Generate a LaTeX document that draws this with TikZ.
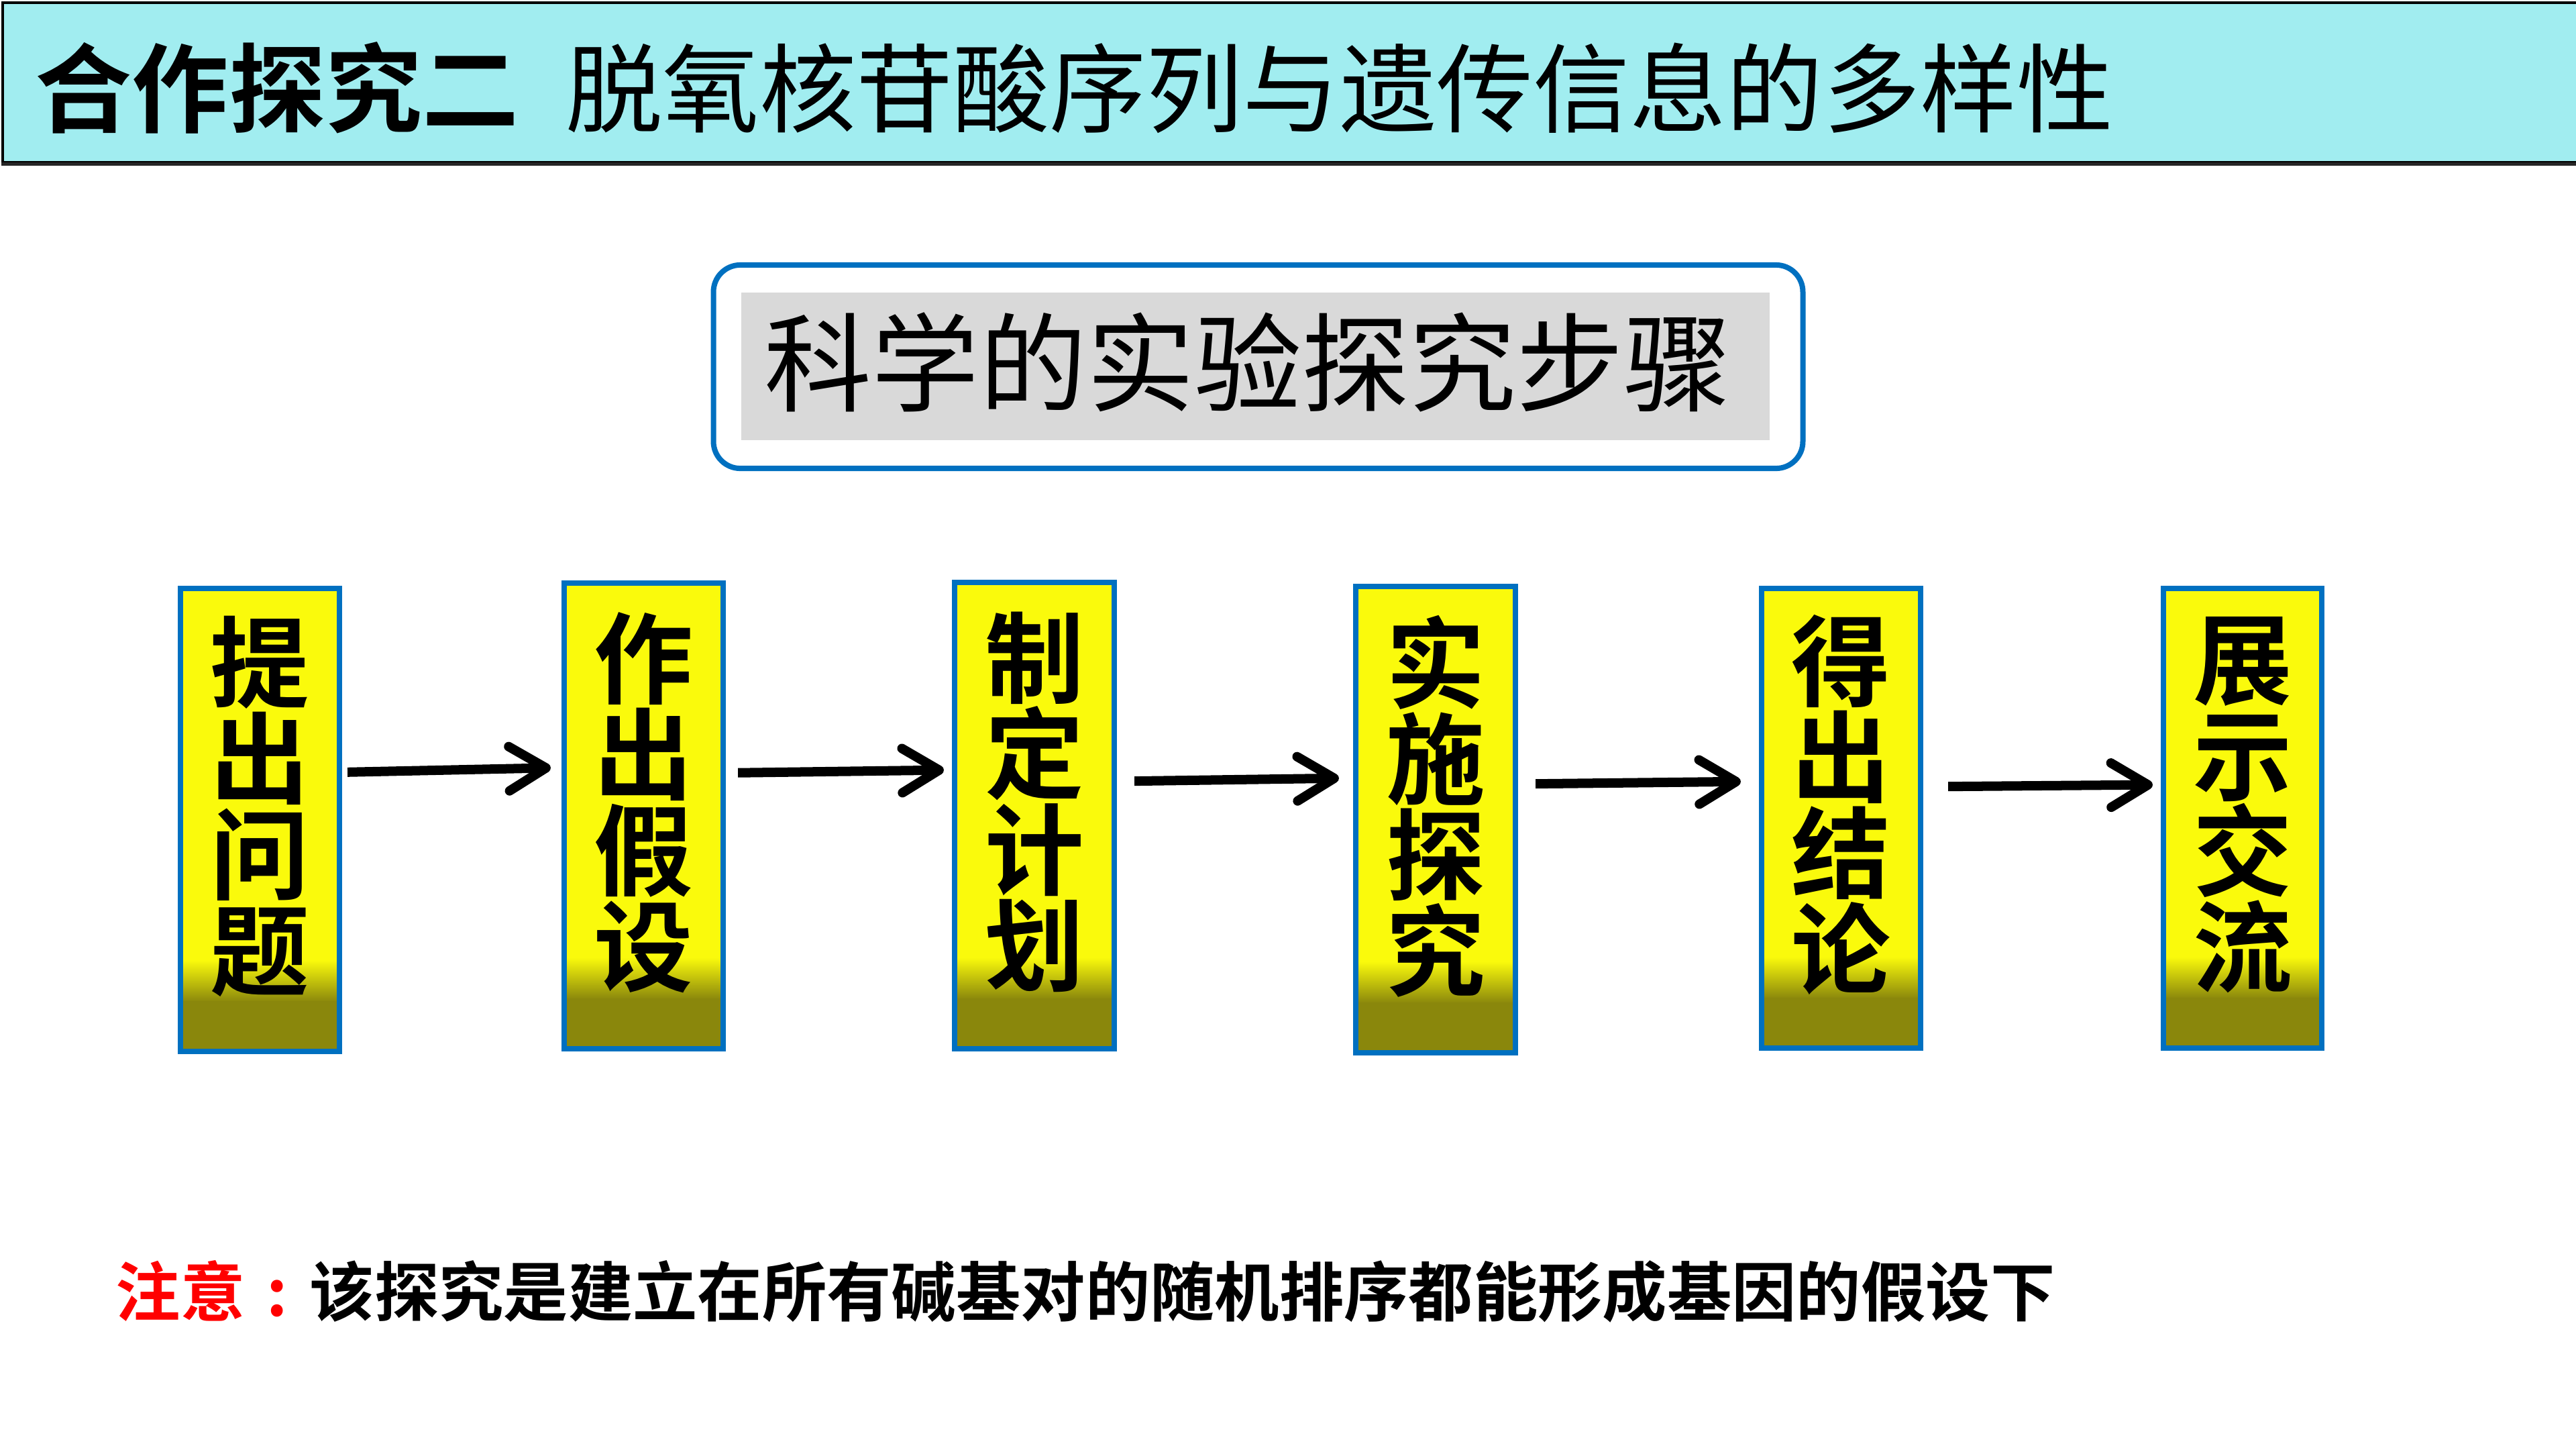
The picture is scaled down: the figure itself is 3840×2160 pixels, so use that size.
\documentclass[tikz,border=0pt]{standalone}
\usepackage{fontspec}
\newfontfamily\cjk{Noto Sans CJK SC}
\newfontfamily\cjkb{Noto Sans CJK SC Bold}
\usetikzlibrary{arrows.meta,calc}
\definecolor{barcyan}{RGB}{161,237,240}
\definecolor{boxblue}{RGB}{0,112,192}
\definecolor{yel}{RGB}{250,250,12}
\definecolor{oli}{RGB}{138,135,12}
\definecolor{greyfill}{RGB}{217,217,217}
\definecolor{notered}{RGB}{255,0,0}
\tikzset{
  stepbox/.style={draw=boxblue, line width=0.08cm, minimum width=2.37cm, minimum height=6.9cm, inner sep=0pt,
    path picture={
      \fill[yel] (path picture bounding box.south west) rectangle (path picture bounding box.north east);
      \shade[top color=yel, bottom color=oli] ([yshift=0.74cm]path picture bounding box.south west) rectangle ([yshift=1.36cm]path picture bounding box.south east);
      \fill[oli] (path picture bounding box.south west) rectangle ([yshift=0.75cm]path picture bounding box.south east);
    }},
  steptext/.style={inner sep=0pt, align=center, font=\cjkb\fontsize{42pt}{40.7pt}\selectfont},
  arr/.style={line width=0.14cm, -{Straight Barb[length=0.55cm, width=0.66cm, line cap=round, line join=round]}},
}
\begin{document}
\begin{tikzpicture}[x=0.01cm, y=-0.01cm]
\useasboundingbox (0,0) rectangle (3840,2160);
\fill[white] (0,0) rectangle (3840,2160);
% title bar
\node[draw=black, line width=0.04cm, fill=barcyan, minimum width=38.36cm, minimum height=2.38cm, inner sep=0pt, anchor=north west] (bar) at (2,2) {};
\draw[black!85, line width=0.05cm] (bar.south west) -- (bar.south east);
\node[anchor=west, inner sep=0pt, font=\fontsize{41pt}{41pt}\selectfont] (title) at (52,131) {{\cjkb 合作探究二}\hspace{0.7cm}{\cjk 脱氧核苷酸序列与遗传信息的多样性}};
% heading box
\node[draw=boxblue, line width=0.08cm, rounded corners=0.4cm, minimum width=16.23cm, minimum height=3.03cm, inner sep=0pt] (frame) at (1875.5,546.5) {};
\node[fill=greyfill, minimum width=15.33cm, minimum height=2.2cm, inner sep=0pt] (inner) at (1871.5,546) {};
\node[inner sep=0pt, font=\cjk\fontsize{45.5pt}{45.5pt}\selectfont] (head) at (1860,540) {科学的实验探究步骤};
% step boxes
\node[stepbox] (b1) at (387.5,1222) {};
\node[stepbox, minimum height=6.94cm] (b2) at (959.5,1216) {};
\node[stepbox, minimum width=2.38cm, minimum height=6.95cm] (b3) at (1542,1215.5) {};
\node[stepbox, minimum width=2.38cm, minimum height=6.95cm] (b4) at (2140,1221.5) {};
\node[stepbox, minimum height=6.85cm] (b5) at (2744.5,1219.5) {};
\node[stepbox, minimum width=2.36cm, minimum height=6.85cm] (b6) at (3343,1219.5) {};
\node[steptext] (t1) at ([yshift=0.2cm]b1.center) {提\\出\\问\\题};
\node[steptext] (t2) at ([yshift=0.2cm]b2.center) {作\\出\\假\\设};
\node[steptext] (t3) at ([yshift=0.2cm]b3.center) {制\\定\\计\\划};
\node[steptext] (t4) at ([yshift=0.2cm]b4.center) {实\\施\\探\\究};
\node[steptext] (t5) at ([yshift=0.2cm]b5.center) {得\\出\\结\\论};
\node[steptext] (t6) at ([yshift=0.2cm]b6.center) {展\\示\\交\\流};
% arrows
\draw[arr, shorten <=0.08cm, shorten >=0.16cm] ([yshift=0.71cm]b1.east) -- ([yshift=0.72cm]b2.west);
\draw[arr, shorten <=0.18cm, shorten >=0.12cm] ([yshift=0.64cm]b2.east) -- ([yshift=0.68cm]b3.west);
\draw[arr, shorten <=0.26cm, shorten >=0.21cm] ([yshift=0.51cm]b3.east) -- ([yshift=0.62cm]b4.west);
\draw[arr, shorten <=0.26cm, shorten >=0.27cm] ([yshift=0.53cm]b4.east) -- ([yshift=0.55cm]b5.west);
\draw[arr, shorten <=0.37cm, shorten >=0.12cm] ([yshift=0.47cm]b5.east) -- ([yshift=0.50cm]b6.west);
% note
\node[anchor=west, inner sep=0pt, font=\cjkb\fontsize{27.4pt}{27.4pt}\selectfont] (note) at (172,1925) {\textcolor{notered}{注意\makebox[1em][c]{:}}该探究是建立在所有碱基对的随机排序都能形成基因的假设下};
\end{tikzpicture}
\end{document}
